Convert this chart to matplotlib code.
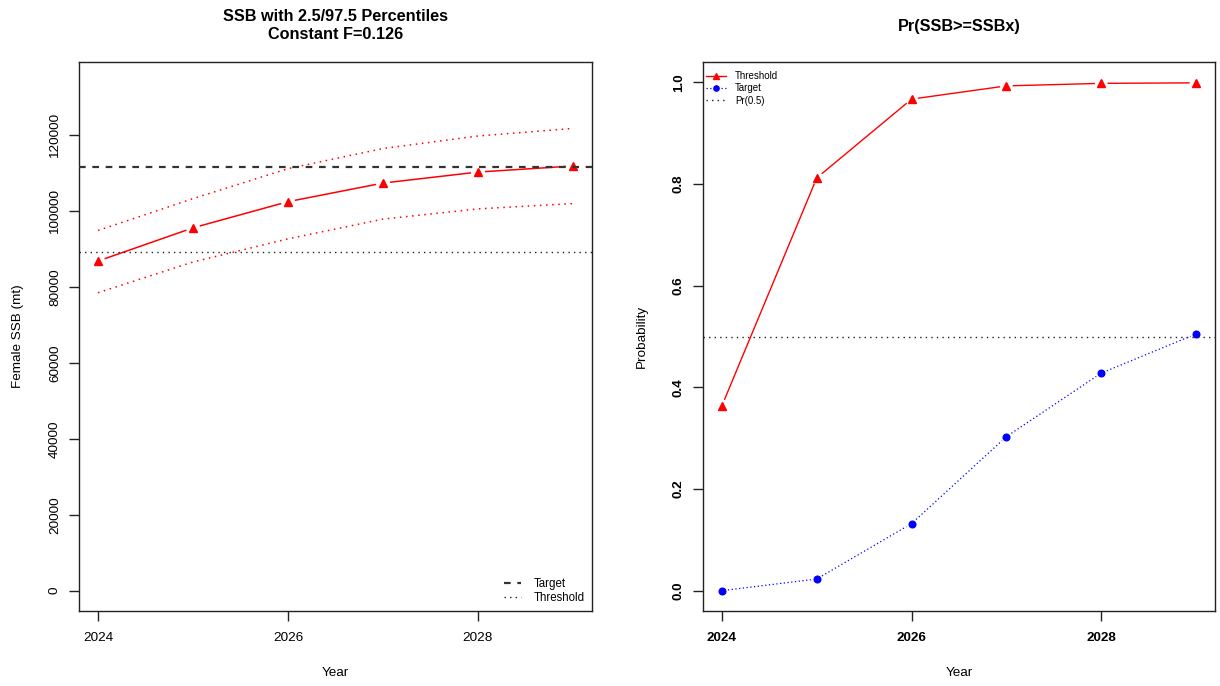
import matplotlib
matplotlib.use("Agg")
import matplotlib.pyplot as plt
import numpy as np

plt.rcParams["font.family"] = ["Liberation Sans", "DejaVu Sans"]

# ---------------------------------------------------------------------------
# Data
# ---------------------------------------------------------------------------
years = [2024, 2025, 2026, 2027, 2028, 2029]

ssb_median = [86850, 95600, 102500, 107400, 110300, 111900]
ssb_upper = [94900, 103300, 111200, 116500, 119800, 121800]
ssb_lower = [78500, 86600, 92700, 97900, 100600, 102000]

ssb_target = 111600
ssb_threshold = 89300

pr_threshold = [0.364, 0.812, 0.967, 0.993, 0.998, 0.999]
pr_target = [0.0, 0.023, 0.132, 0.303, 0.428, 0.505]
pr_half = 0.5

x_ticks = [2024, 2026, 2028]
ssb_ticks = [0, 20000, 40000, 60000, 80000, 100000, 120000]
pr_ticks = [0.0, 0.2, 0.4, 0.6, 0.8, 1.0]
pr_tick_labels = ["0.0", "0.2", "0.4", "0.6", "0.8", "1.0"]

W, H = 1220, 686
DPI = 100


def gap_line(ax, x, y, gap_px, **kw):
    # R type="b": segments stop short of each point
    pts = ax.transData.transform(np.column_stack([x, y]))
    inv = ax.transData.inverted()
    for p0, p1 in zip(pts[:-1], pts[1:]):
        d = p1 - p0
        L = np.hypot(*d)
        if L <= 2 * gap_px:
            continue
        u = d / L
        seg = inv.transform([p0 + u * gap_px, p1 - u * gap_px])
        ax.plot(seg[:, 0], seg[:, 1], **kw)


def style_axes(ax, bold_ticks=False):
    for s in ax.spines.values():
        s.set_linewidth(1.0)
        s.set_color("#222222")
    ax.tick_params(direction="out", length=7, width=1.0, labelsize=9.7,
                   color="#222222")
    ax.tick_params(axis="x", pad=8)
    ax.tick_params(axis="y", pad=6)
    for lab in ax.get_yticklabels():
        lab.set_rotation(90)
        lab.set_va("center")
        if bold_ticks:
            lab.set_fontweight("bold")
    if bold_ticks:
        for lab in ax.get_xticklabels():
            lab.set_fontweight("bold")


fig = plt.figure(figsize=(W / DPI, H / DPI), dpi=DPI)

# left and right panel boxes, in pixels (x0, y0 from top, width, height)
boxes = [(79, 62, 513, 549), (703, 62, 512, 549)]
axes = []
for bx, by, bw, bh in boxes:
    axes.append(fig.add_axes([bx / W, 1 - (by + bh) / H, bw / W, bh / H]))
ax1, ax2 = axes

# ---------------- left: SSB with percentiles ----------------
ax1.set_xlim(2023.8, 2029.2)
ax1.set_ylim(-5360, 139300)
ax1.set_xticks(x_ticks)
ax1.set_yticks(ssb_ticks)
ax1.set_yticklabels([str(v) for v in ssb_ticks])

gap_line(ax1, years, ssb_median, 7, color="red", lw=1.1, solid_capstyle="butt")
ax1.plot(years, ssb_median, ls="none", marker="^", ms=6.4, color="red",
         mec="red", zorder=4)
ax1.plot(years, ssb_upper, color="red", lw=1.1, ls=(0, (1, 3)))
ax1.plot(years, ssb_lower, color="red", lw=1.1, ls=(0, (1, 3)))
ax1.axhline(ssb_target, color="#333333", lw=1.6, ls=(0, (3, 3)), zorder=5,
            label="Target")
ax1.axhline(ssb_threshold, color="#222222", lw=1.0, ls=(0, (1, 3)), zorder=5,
            label="Threshold")

ax1.legend(loc="lower right", frameon=False, fontsize=8.3, handlelength=1.5,
           handletextpad=1.1, labelspacing=0.15, borderaxespad=0.3,
           borderpad=0.3)
ax1.set_xlabel("Year", fontsize=9.7)
ax1.set_ylabel("Female SSB (mt)", fontsize=9.7)
ax1.xaxis.label.set_va("center")
ax1.yaxis.label.set_va("center")
ax1.xaxis.set_label_coords(0.5, -62 / 549)
ax1.yaxis.set_label_coords(-61 / 513, 0.5)
style_axes(ax1)

# ---------------- right: probabilities ----------------
ax2.set_xlim(2023.8, 2029.2)
ax2.set_ylim(-0.04, 1.04)
ax2.set_xticks(x_ticks)
ax2.set_yticks(pr_ticks)
ax2.set_yticklabels(pr_tick_labels)

gap_line(ax2, years, pr_threshold, 7, color="red", lw=1.0)
ax2.plot(years, pr_threshold, ls="none", marker="^", ms=6.4, color="red",
         zorder=4)
gap_line(ax2, years, pr_target, 6, color="blue", lw=0.9, ls=(0, (1, 2)))
ax2.plot(years, pr_target, ls="none", marker="o", ms=4.8, color="blue",
         zorder=4)
ax2.axhline(pr_half, color="#222222", lw=1.0, ls=(0, (1, 3)), zorder=5)

h_thr, = ax2.plot([], [], color="red", lw=1.0, marker="^", ms=4.5)
h_tar, = ax2.plot([], [], color="blue", lw=0.9, ls=(0, (1, 2)), marker="o",
                  ms=3.8)
h_half, = ax2.plot([], [], color="#222222", lw=1.0, ls=(0, (1, 3)))
ax2.legend([h_thr, h_tar, h_half], ["Threshold", "Target", "Pr(0.5)"],
           loc="upper left", bbox_to_anchor=(0, 1 - 6 / 549), frameon=False,
           fontsize=7, handlelength=2.1, handletextpad=0.9, labelspacing=0.25,
           borderaxespad=0.2, borderpad=0.1)
ax2.set_xlabel("Year", fontsize=9.7)
ax2.set_ylabel("Probability", fontsize=9.7)
ax2.xaxis.label.set_va("center")
ax2.yaxis.label.set_va("center")
ax2.xaxis.set_label_coords(0.5, -62 / 549)
ax2.yaxis.set_label_coords(-61 / 512, 0.5)
style_axes(ax2, bold_ticks=True)

# titles, centred over each panel
fig.text((79 + 513 / 2) / W, 1 - 25.5 / H,
         "SSB with 2.5/97.5 Percentiles\nConstant F=0.126",
         ha="center", va="center", fontsize=11.7, fontweight="bold",
         linespacing=1.3)
fig.text((703 + 512 / 2) / W, 1 - 26 / H, "Pr(SSB>=SSBx)",
         ha="center", va="center", fontsize=11.7, fontweight="bold")

fig.savefig("out.png", dpi=DPI)
